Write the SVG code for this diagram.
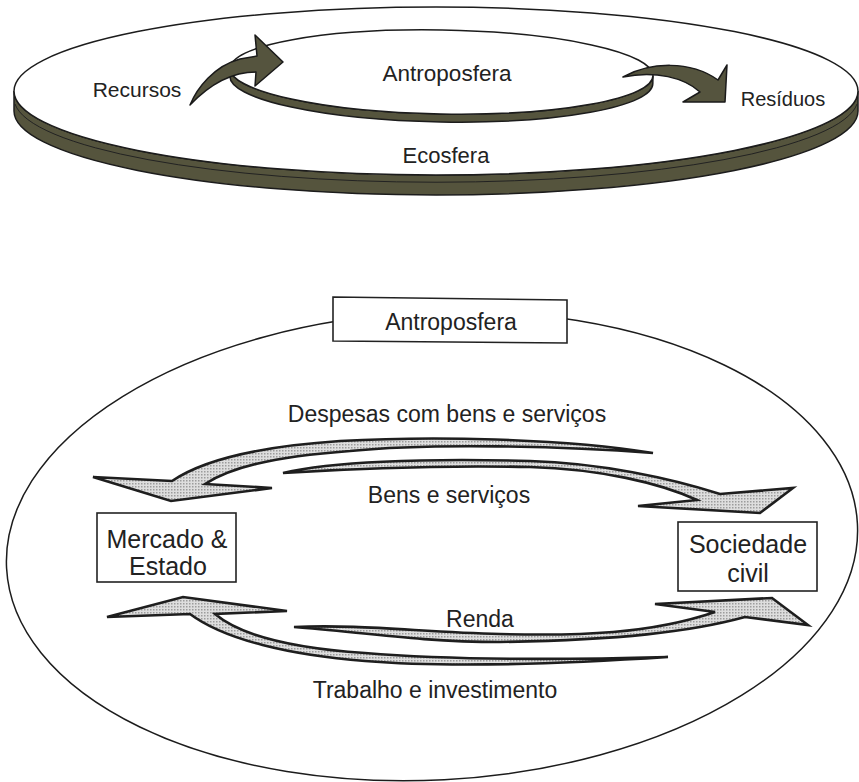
<svg xmlns="http://www.w3.org/2000/svg" width="859" height="782" viewBox="0 0 859 782">
<defs>
<pattern id="dots" width="3" height="3" patternUnits="userSpaceOnUse">
<rect width="3" height="3" fill="#dedede"/>
<rect width="1.5" height="1.5" fill="#9c9c9c"/>
</pattern>
<style>
.t{font-family:"Liberation Sans",Arial,sans-serif;fill:#222;text-anchor:middle}
.band{fill:#55543d;stroke:#1c1c1c;stroke-width:1.5}
.disc{fill:#ffffff;stroke:#1c1c1c;stroke-width:1.5}
.darr{fill:#55543e;stroke:#1a1a1a;stroke-width:1.5;stroke-linejoin:round}
.garr{fill:url(#dots);stroke:#1e1e1e;stroke-width:2.6;stroke-linejoin:miter}
.box{fill:#ffffff;stroke:#222;stroke-width:1.6}
.ell{fill:none;stroke:#1c1c1c;stroke-width:1.5}
</style>
</defs>
<rect width="859" height="782" fill="#ffffff"/>

<!-- Top: Ecosfera disc -->
<g id="ecosfera">
<path class="band" d="M 14,91 L 14,111 A 422 84 0 0 0 858,111 L 858,91 A 422 84 0 0 1 14,91 Z"/>
<path d="M 15,104 A 422 84 0 0 0 857,104" fill="none" stroke="#222" stroke-width="1"/>
<ellipse class="disc" cx="436" cy="91" rx="422" ry="84"/>
<text class="t" x="446" y="163" font-size="22">Ecosfera</text>
</g>

<g id="antroposfera-top" transform="rotate(1 441.5 72)">
<path class="band" d="M 230,72 L 230,80 A 211.5 42 0 0 0 653,80 L 653,72 A 211.5 42 0 0 1 230,72 Z"/>
<ellipse class="disc" cx="441.5" cy="72" rx="211.5" ry="42"/>
</g>
<text class="t" x="447" y="81" font-size="22.5">Antroposfera</text>

<g id="top-connectors">
<path class="darr" d="M 190,105 C 197,88 214,66 240,59 L 257,56 L 255,35 L 283,62 L 255,86 L 256,72 C 232,72 210,84 190,105 Z"/>
<path class="darr" d="M 623,77 C 650,62 690,60 718,80 L 727,65 L 725,102 L 683,102 L 700,92 C 685,78 655,70 623,77 Z"/>
</g>
<g id="recursos"><text class="t" x="137" y="97" font-size="21">Recursos</text></g>
<g id="residuos"><text class="t" x="783" y="106" font-size="20">Resíduos</text></g>

<!-- Bottom diagram -->
<g id="antroposfera">
<ellipse class="ell" cx="432" cy="546" rx="426" ry="234" transform="rotate(-3 432 546)"/>
<polygon class="box" points="333,297 567,300 567,343 333,341"/>
<text class="t" x="451" y="330" font-size="23">Antroposfera</text>
</g>

<g id="mercado-estado">
<rect class="box" x="97" y="513" width="139" height="69"/>
<text class="t" x="167" y="548" font-size="25">Mercado &amp;</text>
<text class="t" x="168" y="575" font-size="25">Estado</text>
</g>

<g id="sociedade-civil">
<rect class="box" x="678" y="522" width="139" height="69"/>
<text class="t" x="748" y="553" font-size="25">Sociedade</text>
<text class="t" x="748" y="582" font-size="25">civil</text>
</g>

<g id="connectors">
<!-- Despesas com bens e servicos: to Mercado -->
<path class="garr" d="M 93,477 L 172,481 C 200,462 250,447 340,441 C 430,436 560,438 653,453 C 560,446 430,443 350,451 C 270,457 230,468 205,484 L 272,488 L 171,501 Z"/>
<!-- Bens e servicos: to Sociedade -->
<path class="garr" d="M 283,473 C 330,462 420,458 530,461 C 600,463 670,478 720,494 L 793,488 L 760,513 L 638,506 L 697,500 C 660,483 600,469 530,467 C 430,465 330,470 283,473 Z"/>
<!-- Renda: to Sociedade -->
<path class="garr" d="M 294,627 C 360,624 420,632 500,634 C 580,636 650,634 715,612 L 655,604 L 772,598 L 808,625 L 745,617 C 690,632 620,640 500,642 C 420,642 360,632 294,627 Z"/>
<!-- Trabalho e investimento: to Mercado -->
<path class="garr" d="M 107,617 L 183,597 L 287,611 L 215,614 C 240,635 290,648 365,653 C 450,660 560,660 668,657 C 560,664 450,668 365,661 C 290,655 225,640 190,614 Z"/>
</g>

<g id="labels">
<text class="t" x="447" y="422" font-size="23">Despesas com bens e serviços</text>
<text class="t" x="449" y="503" font-size="23">Bens e serviços</text>
<text class="t" x="480" y="627" font-size="23">Renda</text>
<text class="t" x="435" y="698" font-size="23">Trabalho e investimento</text>
</g>
</svg>
